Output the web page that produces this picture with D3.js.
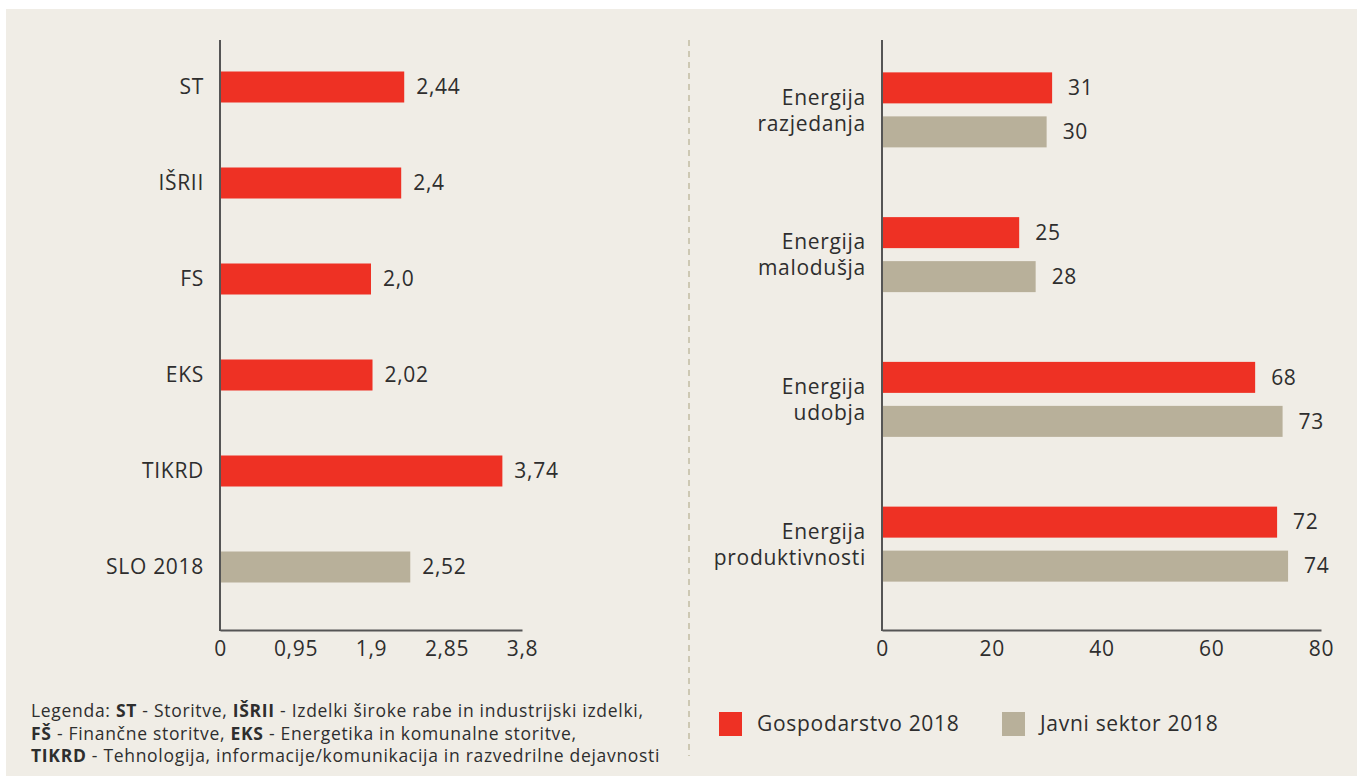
<!DOCTYPE html>
<html><head><meta charset="utf-8">
<script src="https://cdn.jsdelivr.net/npm/d3@7"></script>
<style>
html,body{margin:0;padding:0;background:#fff;}
svg{display:block;font-family:"Open Sans",sans-serif;}
</style></head>
<body><svg id="c" width="1357" height="776"></svg>
<script>
// ---- data ----
const leftCategories = ["ST", "IŠRII", "FS", "EKS", "TIKRD", "SLO 2018"];
const leftValues = [2.44, 2.4, 2.0, 2.02, 3.74, 2.52];
const leftLabels = ["2,44", "2,4", "2,0", "2,02", "3,74", "2,52"];
const leftSeries = ["red", "red", "red", "red", "red", "gray"];
const leftTickValues = [0, 1, 2, 3, 4];
const leftTickLabels = ["0", "0,95", "1,9", "2,85", "3,8"];

const rightCategories = [["Energija", "razjedanja"], ["Energija", "malodušja"], ["Energija", "udobja"], ["Energija", "produktivnosti"]];
const seriesNames = ["Gospodarstvo 2018", "Javni sektor 2018"];
const gospodarstvo = [31, 25, 68, 72];
const javniSektor = [30, 28, 73, 74];
const rightTicks = [0, 20, 40, 60, 80];

const legendLines = [
  [["Legenda: ", false], ["ST", true], [" - Storitve, ", false], ["IŠRII", true], [" - Izdelki široke rabe in industrijski izdelki,", false]],
  [["FŠ", true], [" - Finančne storitve, ", false], ["EKS", true], [" - Energetika in komunalne storitve,", false]],
  [["TIKRD", true], [" - Tehnologija, informacije/komunikacija in razvedrilne dejavnosti", false]]
];

// ---- style ----
const RED = "#ee3124", GRAY = "#b8b09a", TXT = "#2e2e2e", AX = "#555";
const FS = 21, LS = 0.7;
const color = {red: RED, gray: GRAY};
const svg = d3.select("#c");
svg.append("rect").attr("x", 6).attr("y", 9).attr("width", 1351).attr("height", 767).attr("fill", "#f0ede6");

// divider
svg.append("line").attr("x1", 689).attr("x2", 689).attr("y1", 40).attr("y2", 756)
  .attr("stroke", "#cdc8b3").attr("stroke-width", 2).attr("stroke-dasharray", "6,5");

// ---- left chart ----
const xL = d3.scaleLinear().domain([0, 4]).range([220, 522]);
const yL = d3.scaleBand().domain(leftCategories).range([39, 615]).paddingInner(0.68).paddingOuter(0.34);
const gL = svg.append("g");
gL.selectAll("rect.bar").data(leftCategories).join("rect")
  .attr("x", xL(0)).attr("y", (d) => yL(d) + yL.bandwidth()/2 - 15.5)
  .attr("width", (d, i) => xL(leftValues[i]) - xL(0)).attr("height", 31)
  .attr("fill", (d, i) => color[leftSeries[i]]);
gL.selectAll("text.val").data(leftCategories).join("text")
  .attr("x", (d, i) => xL(leftValues[i]) + 12).attr("y", (d) => yL(d) + yL.bandwidth()/2)
  .attr("dy", "0.35em").attr("font-size", FS).attr("letter-spacing", LS).attr("fill", TXT).text((d, i) => leftLabels[i]);
gL.selectAll("text.cat").data(leftCategories).join("text")
  .attr("x", 204).attr("y", (d) => yL(d) + yL.bandwidth()/2).attr("dy", "0.35em")
  .attr("text-anchor", "end").attr("font-size", FS).attr("letter-spacing", LS).attr("fill", TXT).text((d) => d);
const axL = d3.axisBottom(xL).tickValues(leftTickValues).tickSize(0).tickPadding(11)
  .tickFormat((d, i) => leftTickLabels[i]);
const gax = svg.append("g").attr("transform", "translate(0,630)").call(axL);
gax.select(".domain").attr("stroke", AX).attr("stroke-width", 2);
gax.selectAll("text").attr("font-size", FS).attr("letter-spacing", LS).attr("fill", TXT).attr("font-family", "Open Sans");
svg.append("line").attr("x1", 220).attr("x2", 220).attr("y1", 40).attr("y2", 631).attr("stroke", AX).attr("stroke-width", 2);

// ---- right chart ----
const xR = d3.scaleLinear().domain([0, 80]).range([882, 1321]);
const yR = d3.scaleBand().domain(rightCategories.map((d) => d.join(" "))).range([37, 616]);
const ySub = d3.scaleBand().domain(seriesNames).range([0, 88]);
const gR = svg.append("g");
const rows = [];
rightCategories.forEach((c, i) => {
  rows.push({cat: c.join(" "), s: seriesNames[0], v: gospodarstvo[i], col: RED});
  rows.push({cat: c.join(" "), s: seriesNames[1], v: javniSektor[i], col: GRAY});
});
const barTop = (r) => yR(r.cat) + yR.bandwidth()/2 - 37 + ySub(r.s);
gR.selectAll("rect").data(rows).join("rect")
  .attr("x", xR(0)).attr("y", (r) => barTop(r)).attr("width", (r) => xR(r.v) - xR(0))
  .attr("height", 31).attr("fill", (r) => r.col);
gR.selectAll("text.val").data(rows).join("text")
  .attr("x", (r) => xR(r.v) + 16).attr("y", (r) => barTop(r) + 15.5).attr("dy", "0.35em")
  .attr("font-size", FS).attr("letter-spacing", LS).attr("fill", TXT).text((r) => r.v);
const catG = gR.selectAll("g.cat").data(rightCategories).join("g")
  .attr("transform", (c) => `translate(866,${yR(c.join(" ")) + yR.bandwidth()/2})`);
catG.selectAll("text").data((c) => c).join("text")
  .attr("x", 0).attr("y", (d, i) => i === 0 ? -12 : 14).attr("dy", "0.35em")
  .attr("text-anchor", "end").attr("font-size", FS).attr("letter-spacing", LS).attr("fill", TXT).text((d) => d);
const axR = d3.axisBottom(xR).tickValues(rightTicks).tickSize(0).tickPadding(11);
const gaxR = svg.append("g").attr("transform", "translate(0,630)").call(axR);
gaxR.select(".domain").attr("stroke", AX).attr("stroke-width", 2);
gaxR.selectAll("text").attr("font-size", FS).attr("letter-spacing", LS).attr("fill", TXT).attr("font-family", "Open Sans");
svg.append("line").attr("x1", 882).attr("x2", 882).attr("y1", 40).attr("y2", 631).attr("stroke", AX).attr("stroke-width", 2);

// ---- legend (series) ----
const lg = svg.append("g");
const legX = [719, 1002];
seriesNames.forEach((s, i) => {
  lg.append("rect").attr("x", legX[i]).attr("y", 712).attr("width", 23).attr("height", 24).attr("fill", i === 0 ? RED : GRAY);
  lg.append("text").attr("x", legX[i] + 38).attr("y", 724).attr("dy", "0.35em").attr("font-size", FS).attr("letter-spacing", LS).attr("fill", TXT).text(s);
});

// ---- legend text ----
const lt = svg.append("g");
legendLines.forEach((line, i) => {
  const t = lt.append("text").attr("x", 31).attr("y", 711 + i * 22.5).attr("dy", "0.35em").attr("font-size", 17.5).attr("letter-spacing", 0.7).attr("fill", TXT);
  line.forEach(([str, b]) => t.append("tspan").attr("font-weight", b ? 700 : 400).text(str));
});
</script></body></html>
